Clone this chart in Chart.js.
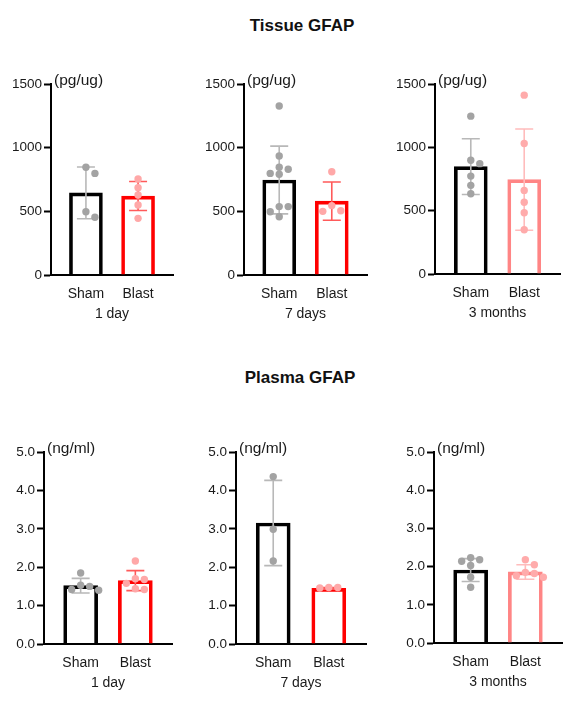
<!DOCTYPE html>
<html><head><meta charset="utf-8">
<script src="https://cdn.jsdelivr.net/npm/chart.js@4.4.1/dist/chart.umd.min.js"></script>
<style>
html,body{margin:0;padding:0;background:#fff;width:583px;height:703px;overflow:hidden;position:relative;font-family:'Liberation Sans',Arial,sans-serif;}
.t{position:absolute;font-weight:bold;font-size:17px;color:#111;transform:translate(-50%,-50%);white-space:nowrap;}
canvas{position:absolute;}
</style></head><body>
<div class="t" id="title0" style="left:302px;top:26px"></div>
<div class="t" id="title1" style="left:300px;top:378px"></div>
<script>
// ---------- DATA ----------
const categories = ['Sham', 'Blast'];
const timepoints = ['1 day', '7 days', '3 months'];
const rowTitles = ['Tissue GFAP', 'Plasma GFAP'];
const units = ['(pg/ug)', '(ng/ml)'];
const tissueTicks = [0, 500, 1000, 1500];
const plasmaTicks = [0, 1, 2, 3, 4, 5];

// Tissue GFAP (pg/ug): [Sham, Blast]
const tissue1dMean = [645, 620];
const tissue1dSD   = [203, 114];
const tissue1dSham  = [846, 798, 497, 453];
const tissue1dBlast = [754, 686, 628, 550, 445];

const tissue7dMean = [746, 580];
const tissue7dSD   = [266, 150];
const tissue7dSham  = [1327, 934, 846, 830, 798, 791, 537, 537, 497, 458];
const tissue7dBlast = [811, 545, 505, 500];

const tissue3mMean = [848, 745];
const tissue3mSD   = [220, 400];
const tissue3mSham  = [1246, 898, 871, 773, 700, 634];
const tissue3mBlast = [1412, 1030, 660, 567, 483, 349];

// Plasma GFAP (ng/ml): [Sham, Blast]
const plasma1dMean = [1.52, 1.65];
const plasma1dSD   = [0.19, 0.26];
const plasma1dSham  = [1.85, 1.53, 1.50, 1.42, 1.40];
const plasma1dBlast = [2.16, 1.70, 1.68, 1.58, 1.44, 1.42];

const plasma7dMean = [3.15, 1.45];
const plasma7dSD   = [1.11, 0.02];
const plasma7dSham  = [4.36, 2.99, 2.16];
const plasma7dBlast = [1.47, 1.47, 1.46];

const plasma3mMean = [1.91, 1.86];
const plasma3mSD   = [0.30, 0.19];
const plasma3mSham  = [2.23, 2.18, 2.14, 2.03, 1.72, 1.46];
const plasma3mBlast = [2.18, 2.05, 1.85, 1.82, 1.76, 1.72];

// ---------- STYLE / LAYOUT ----------
const FONT = "'Liberation Sans', Arial, sans-serif";
const TXT = '#1a1a1a';
const palette = {
  strong: {bar: ['#000000', '#ff0000'], dot: ['#a3a3a3', '#ffa8a8'], err: ['#b8b8b8', '#ff5a5a']},
  light:  {bar: ['#000000', '#ff8585'], dot: ['#a3a3a3', '#ffabab'], err: ['#b8b8b8', '#ffbcbc']}
};
const geom = [
  {L: 51, T: 84, B: 275, R: 173},
  {L: 244, T: 84, B: 275, R: 367},
  {L: 435, T: 84, B: 274, R: 560},
  {L: 44, T: 452, B: 644, R: 172},
  {L: 236, T: 452, B: 644, R: 366},
  {L: 434, T: 452, B: 643, R: 562}
];
const YW = 44, PT = 24, PR = 6, XH = 50;

const panels = [
  {row: 0, tp: 0, mean: tissue1dMean, sd: tissue1dSD, pts: [tissue1dSham, tissue1dBlast], pal: 'strong'},
  {row: 0, tp: 1, mean: tissue7dMean, sd: tissue7dSD, pts: [tissue7dSham, tissue7dBlast], pal: 'strong'},
  {row: 0, tp: 2, mean: tissue3mMean, sd: tissue3mSD, pts: [tissue3mSham, tissue3mBlast], pal: 'light'},
  {row: 1, tp: 0, mean: plasma1dMean, sd: plasma1dSD, pts: [plasma1dSham, plasma1dBlast], pal: 'strong'},
  {row: 1, tp: 1, mean: plasma7dMean, sd: plasma7dSD, pts: [plasma7dSham, plasma7dBlast], pal: 'strong'},
  {row: 1, tp: 2, mean: plasma3mMean, sd: plasma3mSD, pts: [plasma3mSham, plasma3mBlast], pal: 'light'}
];

document.getElementById('title0').textContent = rowTitles[0];
document.getElementById('title1').textContent = rowTitles[1];

// ---------- PLUGINS ----------
const errorBars = {
  id: 'errorBars',
  afterDatasetDraw(chart, args, opts) {
    if (args.index !== 0) return;
    const xs = chart.scales.x, ys = chart.scales.y, ctx = chart.ctx;
    ctx.save();
    ctx.lineWidth = 1.6;
    for (let i = 0; i < opts.means.length; i++) {
      const x = xs.getPixelForValue(i);
      const y1 = ys.getPixelForValue(opts.means[i] + opts.sds[i]);
      const y2 = ys.getPixelForValue(opts.means[i] - opts.sds[i]);
      ctx.strokeStyle = opts.colors[i];
      ctx.beginPath();
      ctx.moveTo(x, y1); ctx.lineTo(x, y2);
      ctx.moveTo(x - 9, y1); ctx.lineTo(x + 9, y1);
      ctx.moveTo(x - 9, y2); ctx.lineTo(x + 9, y2);
      ctx.stroke();
    }
    ctx.restore();
  }
};
const unitLabel = {
  id: 'unitLabel',
  afterDraw(chart, args, opts) {
    const ctx = chart.ctx, a = chart.chartArea;
    ctx.save();
    ctx.fillStyle = TXT;
    ctx.font = '15.5px ' + FONT;
    ctx.textBaseline = 'middle';
    ctx.textAlign = 'left';
    ctx.fillText(opts.text, a.left + 3, a.top - 3);
    ctx.restore();
  }
};

function swarm(chart) {
  const xs = chart.scales.x, ys = chart.scales.y;
  const unit = xs.getPixelForValue(1) - xs.getPixelForValue(0);
  const D = 6.8, S = 9;
  chart.data.datasets.forEach((ds, di) => {
    if (di === 0) return;
    const g = di - 1;
    const placed = [];
    ds.data.forEach(p => {
      const py = ys.getPixelForValue(p.y);
      const cands = [0];
      for (let k = 1; k < 6; k++) { cands.push(k * S, -k * S); }
      let off = 0;
      for (const c of cands) {
        if (placed.every(q => Math.hypot(q.x - c, q.y - py) >= D)) { off = c; break; }
      }
      placed.push({x: off, y: py});
      p.x = g + off / unit;
    });
  });
  chart.update('none');
}

// ---------- CHARTS ----------
panels.forEach((p, idx) => {
  const g = geom[idx];
  const pal = palette[p.pal];
  const W = (g.R - g.L) + YW + PR;
  const H = PT + (g.B - g.T) + XH;
  const cv = document.createElement('canvas');
  cv.width = W; cv.height = H;
  cv.style.left = (g.L - YW) + 'px';
  cv.style.top = (g.T - PT) + 'px';
  cv.style.width = W + 'px'; cv.style.height = H + 'px';
  document.body.appendChild(cv);
  const yTicks = p.row === 0 ? tissueTicks : plasmaTicks;

  const datasets = [{
    type: 'bar',
    order: 2,
    data: p.mean.map((m, i) => ({x: i, y: m})),
    backgroundColor: 'rgba(255,255,255,0)',
    borderColor: pal.bar,
    borderWidth: 3,
    borderSkipped: 'start',
    barThickness: p.row === 0 ? 33 : 34
  }];
  p.pts.forEach((arr, i) => {
    datasets.push({
      type: 'scatter',
      order: 1,
      data: arr.map(v => ({x: i, y: v})),
      pointRadius: 3.7,
      pointBackgroundColor: pal.dot[i],
      pointBorderWidth: 0,
      pointBorderColor: pal.dot[i],
      showLine: false
    });
  });

  const chart = new Chart(cv, {
    type: 'bar',
    data: {datasets},
    plugins: [errorBars, unitLabel],
    options: {
      responsive: false,
      animation: false,
      layout: {padding: {top: PT, right: PR, left: 0, bottom: 0}},
      plugins: {
        legend: {display: false},
        tooltip: {enabled: false},
        errorBars: {means: p.mean, sds: p.sd, colors: pal.err},
        unitLabel: {text: units[p.row]}
      },
      scales: {
        x: {
          type: 'linear', min: -0.67, max: 1.67, offset: false, bounds: 'data',
          afterBuildTicks: s => { s.ticks = categories.map((c, i) => ({value: i})); },
          afterFit: s => { s.height = XH; },
          grid: {display: false, drawTicks: false, offset: false},
          border: {display: true, color: '#000', width: 2},
          ticks: {
            callback: v => categories[v],
            font: {family: FONT, size: 14}, color: TXT, padding: 11,
            maxRotation: 0, autoSkip: false
          },
          title: {display: true, text: timepoints[p.tp], font: {family: FONT, size: 14}, color: TXT, padding: {top: 0, bottom: 2.5}}
        },
        y: {
          type: 'linear', min: 0, max: yTicks[yTicks.length - 1],
          afterBuildTicks: s => { s.ticks = yTicks.map(v => ({value: v})); },
          afterFit: s => { s.width = YW; },
          grid: {drawOnChartArea: false, drawTicks: true, tickLength: 7, tickWidth: 2, tickColor: '#000'},
          border: {display: true, color: '#000', width: 2},
          ticks: {
            callback: v => p.row === 0 ? String(v) : v.toFixed(1),
            font: {family: FONT, size: 13.5}, color: TXT, padding: 2
          }
        }
      }
    }
  });
  swarm(chart);
});
</script>
</body></html>
